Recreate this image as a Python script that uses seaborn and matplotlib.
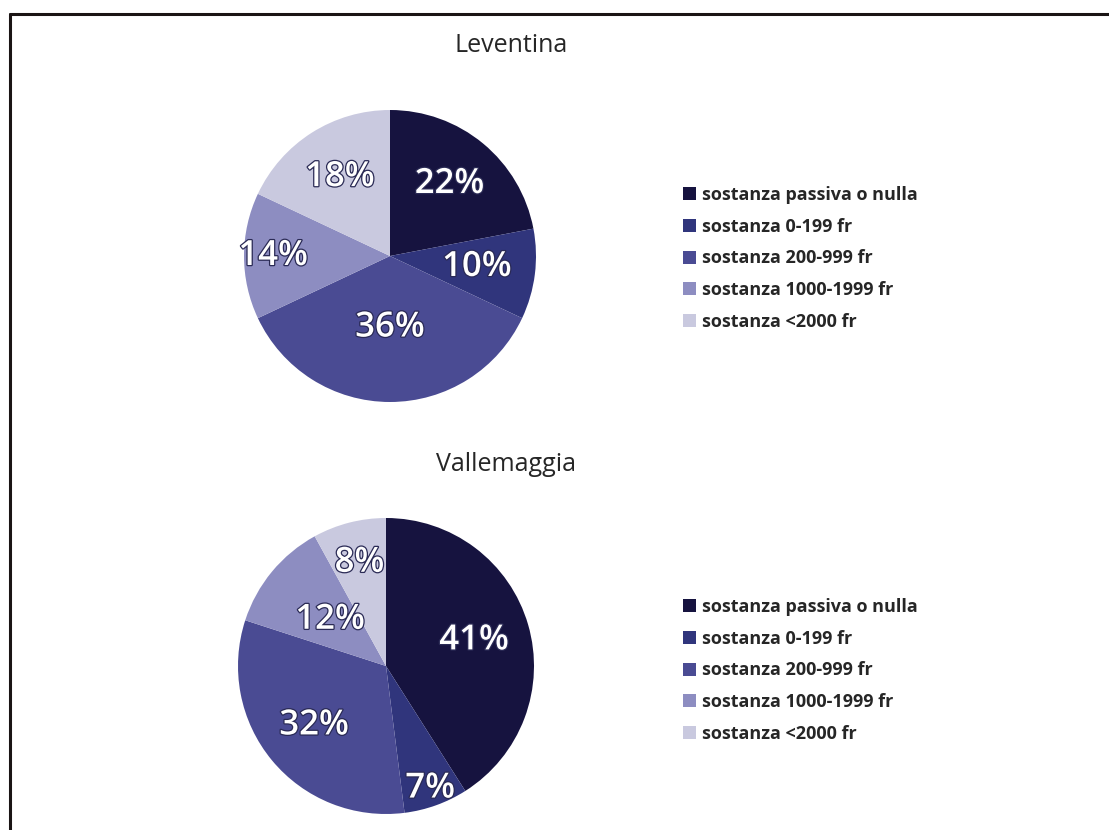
import numpy as np
import matplotlib.pyplot as plt
import matplotlib.patheffects as pe
from matplotlib.lines import Line2D
import seaborn as sns

# dati
categorie = ['sostanza passiva o nulla', 'sostanza 0-199 fr', 'sostanza 200-999 fr',
             'sostanza 1000-1999 fr', 'sostanza <2000 fr']
leventina = [22, 10, 36, 14, 18]
vallemaggia = [41, 7, 32, 12, 8]
colori = ['#16133f', '#30357c', '#4a4b93', '#8d8dc1', '#c9c9df']

sns.set_theme(style='white')
plt.rcParams['font.family'] = ['Open Sans', 'DejaVu Sans']

fig = plt.figure(figsize=(11.09, 8.30), dpi=100)
W, H = 1109, 830


def pie_axes(cx, cy, r):
    return fig.add_axes([(cx - r) / W, 1 - (cy + r) / H, 2 * r / W, 2 * r / H])


def draw_pie(ax, values, radii):
    wedges, _ = ax.pie(values, colors=colori, startangle=90, counterclock=False,
                       radius=1, wedgeprops=dict(linewidth=0))
    for w, v, rr in zip(wedges, values, radii):
        ang = np.deg2rad((w.theta1 + w.theta2) / 2)
        ax.text(rr * np.cos(ang), rr * np.sin(ang), f'{v}%', ha='center', va='center',
                color='white', fontsize=25, fontweight='semibold',
                path_effects=[pe.withStroke(linewidth=1.8, foreground='#2a2a55')])
    ax.set_xlim(-1, 1)
    ax.set_ylim(-1, 1)
    ax.set_aspect('equal')
    ax.axis('off')
    return wedges


def draw_legend(wedges, top):
    fig.legend(wedges, categorie, loc='upper left', bbox_to_anchor=(683 / W, 1 - top / H),
               frameon=False, borderpad=0, borderaxespad=0, handlelength=0.72,
               handleheight=0.72, handletextpad=0.33, labelspacing=0.76,
               prop=dict(size=13, weight='bold'))


ax1 = pie_axes(390, 256, 146)
w1 = draw_pie(ax1, leventina, [0.64, 0.6, 0.49, 0.8, 0.64])
draw_legend(w1, 186)
fig.text(511 / W, 1 - 46 / H, 'Leventina', ha='center', va='center', fontsize=18)

ax2 = pie_axes(386, 666, 148)
w2 = draw_pie(ax2, vallemaggia, [0.62, 0.88, 0.63, 0.49, 0.72])
draw_legend(w2, 598)
fig.text(506 / W, 1 - 464 / H, 'Vallemaggia', ha='center', va='center', fontsize=18)

# cornice
fig.add_artist(Line2D([10 / W, 10 / W], [0, 1 - 14 / H], color='#1a1414', lw=2.2))
fig.add_artist(Line2D([10 / W, 1], [1 - 14 / H, 1 - 14 / H], color='#1a1414', lw=2.2))

fig.savefig('out.png', dpi=100)
